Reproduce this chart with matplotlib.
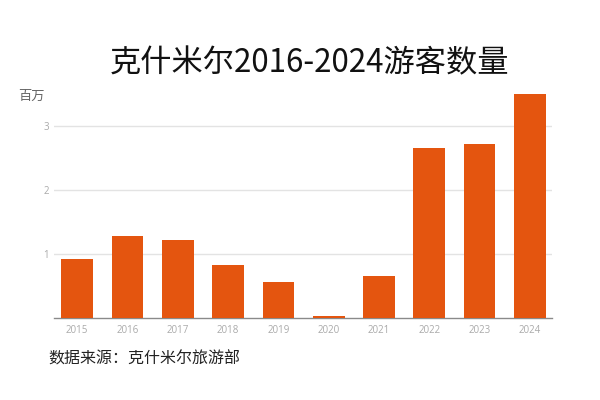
import matplotlib
matplotlib.use("Agg")
import matplotlib.pyplot as plt

years = ["2015", "2016", "2017", "2018", "2019", "2020", "2021", "2022", "2023", "2024"]
visitors = [0.93, 1.29, 1.225, 0.83, 0.57, 0.04, 0.665, 2.66, 2.71, 3.49]
y_ticks = [1, 2, 3]

plt.rcParams['font.family'] = ['Noto Sans CJK SC', 'DejaVu Sans']

fig = plt.figure(figsize=(6, 4), dpi=100)
ax = fig.add_axes([0.09, 0.204, 0.83, 0.562])

x = list(range(len(years)))
ax.bar(x, visitors, width=0.63, color="#E4550F", zorder=3)

ax.set_xlim(-0.46, len(years) - 1 + 0.44)
ax.set_ylim(0, 3.5)
ax.set_yticks(y_ticks)
ax.set_yticklabels([str(t) for t in y_ticks])
ax.set_xticks(x)
ax.set_xticklabels(years)

ax.grid(axis="y", color="#e3e3e3", linewidth=1, zorder=0)
for s in ["top", "right", "left"]:
    ax.spines[s].set_visible(False)
ax.spines["bottom"].set_color("#8a8a8a")
ax.spines["bottom"].set_linewidth(1)
ax.tick_params(axis="both", length=0, labelsize=7, labelcolor="#aaaaaa")
ax.tick_params(axis="x", pad=4.5)
ax.tick_params(axis="y", pad=3.5)
for lab in ax.get_xticklabels() + ax.get_yticklabels():
    lab.set_family(['Open Sans', 'DejaVu Sans'])

fig.text(0.515, 0.842, "克什米尔2016-2024游客数量", ha="center", va="center",
         fontsize=22.5, color="#111111")
fig.text(0.03, 0.76, "百万", ha="left", va="center", fontsize=9.5, color="#666666")
fig.text(0.08, 0.103, "数据来源：克什米尔旅游部", ha="left", va="center",
         fontsize=11.5, color="#222222")

fig.savefig("out.png", dpi=100)
